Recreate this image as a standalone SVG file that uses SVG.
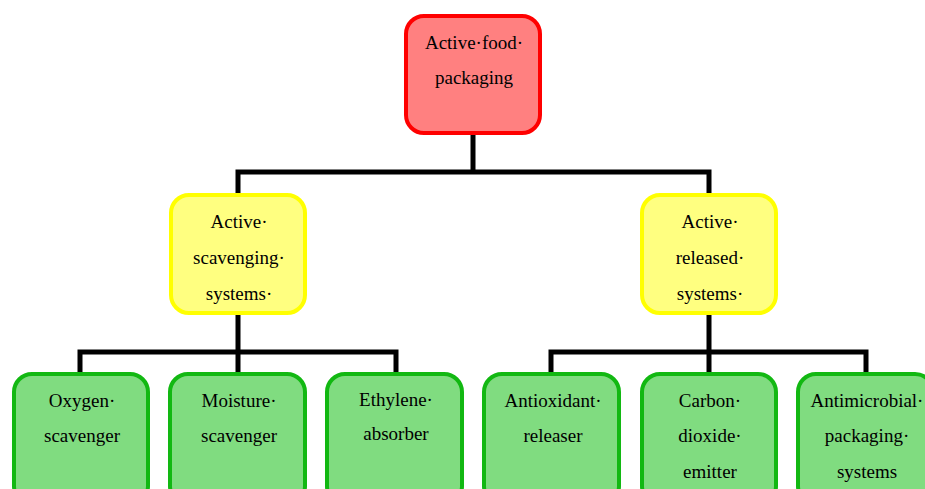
<svg xmlns="http://www.w3.org/2000/svg" width="925" height="489" viewBox="0 0 925 489">
<style>
.box{stroke-width:4}
.red{fill:#FF8080;stroke:#FF0000}
.yel{fill:#FFFF80;stroke:#FFFF00}
.grn{fill:#80DC80;stroke:#12B812}
.conn{fill:none;stroke:#000;stroke-width:5}
text{font-family:"Liberation Serif","Times New Roman",serif;font-size:19px;fill:#000;text-anchor:middle}
</style>
<rect width="925" height="489" fill="#fff"/>
<g id="connectors">
<path class="conn" d="M473,133 V172 M238,172 H709 M238,169.5 V195 M709,169.5 V195"/>
<path class="conn" d="M238,313 V352 M80,352 H396 M80,349.5 V374 M238,349.5 V374 M396,349.5 V374"/>
<path class="conn" d="M709,313 V352 M551,352 H866 M551,349.5 V374 M709,349.5 V374 M866,349.5 V374"/>
</g>
<g id="node-active-food-packaging">
<rect class="box red" x="406" y="16" width="134" height="117" rx="18"/>
<text x="474" y="49">Active·food·</text>
<text x="474" y="84">packaging</text>
</g>
<g id="node-active-scavenging">
<rect class="box yel" x="171" y="195" width="134" height="118" rx="18"/>
<text x="239" y="228">Active·</text>
<text x="239" y="264">scavenging·</text>
<text x="239" y="300">systems·</text>
</g>
<g id="node-active-released">
<rect class="box yel" x="642" y="195" width="134" height="118" rx="18"/>
<text x="710" y="228">Active·</text>
<text x="710" y="264">released·</text>
<text x="710" y="300">systems·</text>
</g>
<g id="node-oxygen">
<rect class="box grn" x="14" y="374" width="134" height="130" rx="18"/>
<text x="82" y="407">Oxygen·</text>
<text x="82" y="442">scavenger</text>
</g>
<g id="node-moisture">
<rect class="box grn" x="170" y="374" width="135" height="130" rx="18"/>
<text x="239" y="407">Moisture·</text>
<text x="239" y="442">scavenger</text>
</g>
<g id="node-ethylene">
<rect class="box grn" x="327" y="374" width="135" height="130" rx="18"/>
<text x="396" y="406">Ethylene·</text>
<text x="396" y="440">absorber</text>
</g>
<g id="node-antioxidant">
<rect class="box grn" x="484" y="374" width="135" height="130" rx="18"/>
<text x="553" y="407">Antioxidant·</text>
<text x="553" y="442">releaser</text>
</g>
<g id="node-carbon">
<rect class="box grn" x="642" y="374" width="134" height="130" rx="18"/>
<text x="710" y="407">Carbon·</text>
<text x="710" y="442">dioxide·</text>
<text x="710" y="478">emitter</text>
</g>
<g id="node-antimicrobial">
<rect class="box grn" x="798" y="374" width="135" height="130" rx="18"/>
<text x="867" y="407">Antimicrobial·</text>
<text x="867" y="442">packaging·</text>
<text x="867" y="478">systems</text>
</g>
</svg>
